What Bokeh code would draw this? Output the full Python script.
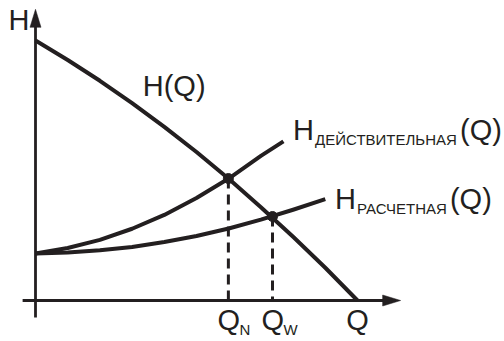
from bokeh.plotting import figure
from bokeh.models import Range1d
from bokeh.embed import file_html
from bokeh.resources import INLINE
from bokeh.core.properties import value

# ---- data (Q, H in arbitrary units) ----
# pump curve H(Q)
q_pump = [0, 1, 2, 3, 4, 5, 6, 7, 8, 9, 10]
h_pump = [10.0, 9.25, 8.45, 7.59, 6.68, 5.71, 4.68, 3.59, 2.45, 1.26, 0.0]
# actual system curve H_действительная(Q)
q_act = [0, 1, 2, 3, 4, 5, 6, 7, 7.7]
h_act = [1.81, 2.02, 2.33, 2.76, 3.29, 3.94, 4.69, 5.56, 6.12]
# design system curve H_расчетная(Q)
q_des = [0, 1, 2, 3, 4, 5, 6, 7, 8, 9]
h_des = [1.81, 1.85, 1.93, 2.06, 2.25, 2.48, 2.77, 3.11, 3.49, 3.90]
# operating points
q_ops = [5.99, 7.36]
h_ops = [4.69, 3.23]
op_subs = ["N", "W"]

INK = "#231f20"
FONT = "Liberation Sans"

PX_Q = 32.2   # pixels per Q unit
PX_H = 26.0   # pixels per H unit
W, Hh = 504, 341
ox, oy = 35, 41  # origin offset in figure pixels (left, bottom)

p = figure(width=W, height=Hh, output_backend="svg", toolbar_location=None,
           x_range=Range1d(-ox / PX_Q, (W - ox) / PX_Q),
           y_range=Range1d(-oy / PX_H, (Hh - oy) / PX_H),
           min_border=0, x_axis_type=None, y_axis_type=None)
p.grid.visible = False
p.outline_line_color = None
p.background_fill_color = "white"
p.border_fill_color = "white"

# ---- axes with arrows ----
x_ax_start, x_ax_end = -0.40, 11.34
y_ax_start, y_ax_end = -0.65, 11.2
head_len, head_half = 18, 5.5
p.line([x_ax_start, x_ax_end - head_len / PX_Q + 0.05], [0, 0], line_color=INK, line_width=2.8)
p.patch([x_ax_end, x_ax_end - head_len / PX_Q, x_ax_end - head_len / PX_Q],
        [0, head_half / PX_H, -head_half / PX_H], fill_color=INK, line_color=INK, line_width=0.5)
p.line([0, 0], [y_ax_start, y_ax_end - head_len / PX_H + 0.05], line_color=INK, line_width=2.8)
p.patch([0, head_half / PX_Q, -head_half / PX_Q],
        [y_ax_end, y_ax_end - head_len / PX_H, y_ax_end - head_len / PX_H],
        fill_color=INK, line_color=INK, line_width=0.5)

# ---- curves ----
for qs, hs in [(q_pump, h_pump), (q_act, h_act), (q_des, h_des)]:
    p.line(qs, hs, line_color=INK, line_width=4, line_join="round", line_cap="butt")

# ---- drop lines and operating points ----
for q, h in zip(q_ops, h_ops):
    p.line([q, q], [h, 0], line_color=INK, line_width=3, line_dash="10 6")
p.scatter(q_ops, h_ops, size=10, fill_color=INK, line_color=INK)


def label(x, y, parts, align="left"):
    """parts: list of (text, size_px, dx_px, dy_px); dy positive = down"""
    for t, s, dx, dy in parts:
        fix = 0.4 * s  # compensate the renderer's baseline placement
        p.text(x=[x], y=[y + (fix - dy) / PX_H], text=[t], x_offset=dx,
               text_font=value(FONT), text_font_size=f"{s}px",
               text_color=INK, text_align=align, text_baseline="alphabetic")


BIG, SMALL = 29, 15
label(-0.84, 10.36, [("H", BIG, 0, 0)])
label(3.33, 7.81, [("H(Q)", BIG, 0, 0)])
label(8.0, 6.1, [("H", BIG, 0, 0), ("ДЕЙСТВИТЕЛЬНАЯ", SMALL, 22, 4),
                 ("(Q)", BIG, 22 + 145, 0)])
label(9.3, 3.46, [("H", BIG, 0, 0), ("РАСЧЕТНАЯ", SMALL, 22, 4),
                  ("(Q)", BIG, 22 + 93, 0)])
for q, s in zip(q_ops, op_subs):
    label(q - 0.34, -1.19, [("Q", BIG, 0, 0), (s, SMALL, 22, 4)])
label(10.0, -1.19, [("Q", BIG, 0, 0)], align="center")

open("out.html", "w").write(file_html(p, INLINE))
